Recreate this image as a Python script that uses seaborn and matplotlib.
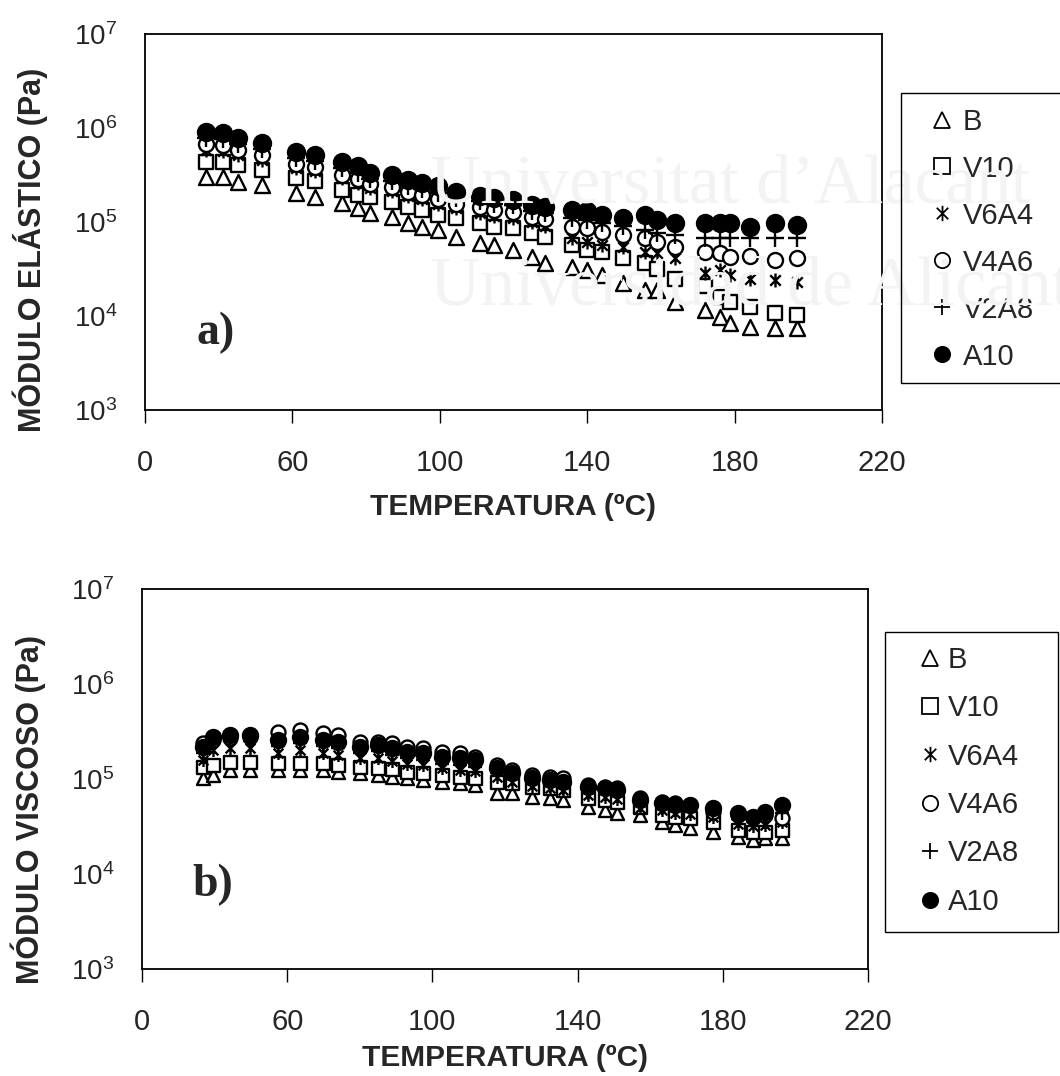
import pandas as pd
import matplotlib
matplotlib.use("Agg")
import matplotlib.pyplot as plt
from matplotlib.path import Path
from matplotlib.lines import Line2D
from matplotlib.patches import Rectangle
import seaborn as sns

# ---- a) elastic modulus ----
temp_a = [36.6, 41.2, 45.2, 51.8, 61.0, 66.1, 73.5, 77.8, 81.1, 87.0, 91.4,
          95.2, 99.5, 104.4, 110.9, 114.7, 119.9, 125.0, 128.5, 135.9, 139.9,
          144.0, 149.7, 155.7, 158.9, 163.8, 172.0, 176.0, 178.8, 184.2,
          191.0, 196.9]
b_a = [3.0e5, 3.0e5, 2.67e5, 2.48e5, 2.04e5, 1.85e5, 1.59e5, 1.41e5, 1.25e5,
       1.13e5, 9.8e4, 8.85e4, 8.2e4, 6.9e4, 6.0e4, 5.7e4, 5.0e4, 4.2e4, 3.7e4,
       3.3e4, 3.1e4, 2.7e4, 2.25e4, 1.9e4, 1.9e4, 1.4e4, 1.16e4, 9.8e3, 8.4e3,
       7.6e3, 7.5e3, 7.5e3]
v10_a = [4.35e5, 4.35e5, 4.0e5, 3.6e5, 2.95e5, 2.7e5, 2.2e5, 1.94e5, 1.85e5,
         1.63e5, 1.44e5, 1.34e5, 1.19e5, 1.1e5, 9.8e4, 8.85e4, 8.6e4, 7.6e4,
         6.9e4, 5.7e4, 5.0e4, 4.8e4, 4.1e4, 3.7e4, 3.2e4, 2.5e4, 2.1e4, 1.6e4,
         1.4e4, 1.25e4, 1.08e4, 1.03e4]
v6a4_a = [5.8e5, 5.7e5, 5.2e5, 4.6e5, 3.75e5, 3.5e5, 2.95e5, 2.6e5, 2.3e5,
          2.15e5, 1.9e5, 1.75e5, 1.55e5, 1.4e5, 1.25e5, 1.15e5, 1.1e5, 1.0e5,
          9.1e4, 6.7e4, 6.1e4, 5.7e4, 5.4e4, 4.8e4, 4.7e4, 4.1e4, 2.9e4, 3.1e4,
          2.7e4, 2.5e4, 2.4e4, 2.3e4]
v4a6_a = [6.8e5, 6.6e5, 5.8e5, 5.2e5, 4.1e5, 3.85e5, 3.2e5, 2.85e5, 2.55e5,
          2.36e5, 2.08e5, 1.94e5, 1.75e5, 1.55e5, 1.44e5, 1.34e5, 1.28e5,
          1.13e5, 1.07e5, 8.85e4, 8.6e4, 7.8e4, 7.3e4, 6.7e4, 6.1e4, 5.4e4,
          4.8e4, 4.7e4, 4.2e4, 4.4e4, 3.9e4, 4.1e4]
v2a8_a = [7.8e5, 7.6e5, 6.8e5, 6.0e5, 4.8e5, 4.5e5, 3.75e5, 3.3e5, 2.85e5,
          2.7e5, 2.4e5, 2.25e5, 2.05e5, 1.8e5, 1.67e5, 1.55e5, 1.5e5, 1.3e5,
          1.25e5, 1.1e5, 1.05e5, 9.8e4, 9.1e4, 8.2e4, 7.6e4, 7.3e4, 6.7e4,
          6.7e4, 6.7e4, 6.7e4, 6.7e4, 6.7e4]
a10_a = [9.0e5, 8.8e5, 7.8e5, 6.9e5, 5.5e5, 5.2e5, 4.3e5, 3.9e5, 3.3e5, 3.2e5,
         2.8e5, 2.6e5, 2.4e5, 2.1e5, 1.9e5, 1.8e5, 1.7e5, 1.5e5, 1.45e5,
         1.35e5, 1.3e5, 1.2e5, 1.1e5, 1.2e5, 1.05e5, 9.8e4, 9.8e4, 9.8e4,
         9.8e4, 8.9e4, 9.8e4, 9.3e4]

# ---- b) viscous modulus ----
temp_b = [36.8, 39.6, 44.2, 49.8, 57.5, 63.5, 69.9, 74.0, 80.1, 85.0, 88.8,
          93.0, 97.4, 102.6, 107.6, 111.7, 117.8, 121.9, 127.4, 132.4, 136.0,
          142.9, 147.5, 150.9, 157.2, 163.3, 166.8, 171.0, 177.3, 184.2,
          188.3, 191.6, 196.3]
b_b = [1.03e5, 1.1e5, 1.24e5, 1.24e5, 1.24e5, 1.24e5, 1.24e5, 1.19e5, 1.16e5,
       1.1e5, 1.05e5, 1.03e5, 9.8e4, 9.3e4, 9.1e4, 8.6e4, 7.1e4, 7.1e4, 6.5e4,
       6.3e4, 6.0e4, 5.1e4, 4.7e4, 4.4e4, 4.2e4, 3.5e4, 3.3e4, 3.05e4, 2.8e4,
       2.45e4, 2.3e4, 2.4e4, 2.4e4]
v10_b = [1.34e5, 1.4e5, 1.51e5, 1.51e5, 1.47e5, 1.47e5, 1.47e5, 1.4e5, 1.34e5,
         1.31e5, 1.27e5, 1.19e5, 1.16e5, 1.1e5, 1.05e5, 1.03e5, 9.3e4, 9.1e4,
         8.2e4, 8.0e4, 7.7e4, 6.3e4, 6.0e4, 5.7e4, 5.1e4, 4.2e4, 4.0e4, 3.9e4,
         3.5e4, 2.9e4, 2.8e4, 2.8e4, 2.9e4]
v6a4_b = [1.6e5, 2.0e5, 2.1e5, 2.1e5, 1.9e5, 2.0e5, 1.9e5, 1.8e5, 1.65e5,
          1.65e5, 1.55e5, 1.45e5, 1.4e5, 1.3e5, 1.25e5, 1.2e5, 1.05e5, 9.3e4,
          8.5e4, 8.0e4, 7.6e4, 6.8e4, 6.5e4, 6.2e4, 5.0e4, 4.7e4, 4.4e4, 4.3e4,
          4.0e4, 3.4e4, 3.2e4, 3.3e4, 3.5e4]
v4a6_b = [2.4e5, 2.6e5, 2.7e5, 2.8e5, 3.1e5, 3.3e5, 3.05e5, 2.9e5, 2.45e5,
          2.45e5, 2.4e5, 2.17e5, 2.12e5, 1.92e5, 1.88e5, 1.71e5, 1.4e5, 1.24e5,
          1.1e5, 1.05e5, 1.03e5, 8.6e4, 8.2e4, 8.0e4, 6.3e4, 5.7e4, 5.6e4,
          5.3e4, 4.5e4, 4.2e4, 4.0e4, 4.2e4, 3.9e4]
v2a8_b = [1.9e5, 2.4e5, 2.5e5, 2.5e5, 2.2e5, 2.4e5, 2.2e5, 2.1e5, 1.9e5,
          1.95e5, 1.8e5, 1.65e5, 1.6e5, 1.45e5, 1.4e5, 1.35e5, 1.15e5, 1.0e5,
          9.0e4, 8.5e4, 8.0e4, 7.2e4, 7.0e4, 6.7e4, 5.3e4, 5.0e4, 4.7e4, 4.6e4,
          4.3e4, 3.8e4, 3.5e4, 3.8e4, 4.4e4]
a10_b = [2.17e5, 2.77e5, 2.9e5, 2.9e5, 2.58e5, 2.77e5, 2.58e5, 2.45e5, 2.17e5,
         2.28e5, 2.12e5, 1.92e5, 1.88e5, 1.71e5, 1.66e5, 1.58e5, 1.3e5, 1.15e5,
         1.03e5, 9.8e4, 9.3e4, 8.2e4, 8.0e4, 7.7e4, 6.0e4, 5.6e4, 5.3e4, 5.3e4,
         5.0e4, 4.4e4, 4.0e4, 4.5e4, 5.3e4]

series_names = ["B", "V10", "V6A4", "V4A6", "V2A8", "A10"]
x_ticks = [20, 60, 100, 140, 180, 220]
x_ticklabels = ["0", "60", "100", "140", "180", "220"]
y_ticks = [1e3, 1e4, 1e5, 1e6, 1e7]
y_ticklabels = ["10$^{3}$", "10$^{4}$", "10$^{5}$", "10$^{6}$", "10$^{7}$"]

# asterisk like the Excel one: vertical bar + X
star = Path([(0, -1), (0, 1), (-0.75, -0.75), (0.75, 0.75),
             (-0.75, 0.75), (0.75, -0.75)],
            [Path.MOVETO, Path.LINETO] * 3)

styles = {
    "B": dict(marker="^", fc="white", ec="black"),
    "V10": dict(marker="s", fc="white", ec="black"),
    "V6A4": dict(marker=star, fc="black", ec="black"),
    "V4A6": dict(marker="o", fc="white", ec="black"),
    "V2A8": dict(marker="+", fc="black", ec="black"),
    "A10": dict(marker="o", fc="black", ec="black"),
}
size_a = {"B": 15, "V10": 14, "V6A4": 14, "V4A6": 15, "V2A8": 18, "A10": 17}
size_b = {"B": 13, "V10": 13, "V6A4": 13, "V4A6": 14, "V2A8": 14, "A10": 15}

sns.set_style("white")
plt.rcParams["font.family"] = ["Liberation Sans", "DejaVu Sans"]
plt.rcParams["mathtext.default"] = "regular"

fig = plt.figure(figsize=(10.6, 10.76), dpi=100)

# faint watermark of the scanned source
for txt, yb in [("Universitat d\u2019Alacant", 203), ("Universidad de Alicante", 305)]:
    fig.text(430 / 1060, 1 - yb / 1076, txt, family="Liberation Serif",
             fontsize=50, color="#f3f3f3", va="baseline", zorder=0)

ax_a = fig.add_axes([145 / 1060, 1 - 410 / 1076, 737 / 1060, 376 / 1076])
ax_b = fig.add_axes([142 / 1060, 1 - 969 / 1076, 726 / 1060, 380 / 1076])


def draw_panel(ax, temps, values, sizes, ylabel, tag, tag_y, ylab_y, xlab_y,
               box, leg_anchor, leg_pad):
    for name in series_names:
        df = pd.DataFrame({"temp": temps, "mod": values[name]})
        st = styles[name]
        sns.scatterplot(data=df, x="temp", y="mod", ax=ax, marker=st["marker"],
                        s=(sizes[name] * 0.72) ** 2, facecolor=st["fc"],
                        edgecolor=st["ec"], linewidth=1.7, zorder=3)
    ax.set_yscale("log")
    ax.set_xlim(20, 220)
    ax.set_ylim(1e3, 1e7)
    ax.set_xticks(x_ticks)
    ax.set_xticklabels(x_ticklabels)
    ax.set_yticks(y_ticks)
    ax.set_yticklabels(y_ticklabels)
    ax.minorticks_off()
    ax.tick_params(axis="x", direction="out", length=9, width=1, color="black",
                   labelsize=21, pad=19, bottom=True)
    ax.tick_params(axis="y", length=0, labelsize=20, pad=20)
    ax.patch.set_alpha(0)
    for sp in ax.spines.values():
        sp.set_color("black")
        sp.set_linewidth(1.3)
    ax.set_xlabel("TEMPERATURA (ºC)", fontsize=21.5, fontweight="bold", va="center")
    ax.xaxis.set_label_coords(0.5, xlab_y)
    ax.set_ylabel(ylabel, fontsize=22, fontweight="bold", va="center")
    ax.yaxis.set_label_coords(-115 / 737, ylab_y)
    ax.text(34, 10 ** tag_y, tag, family="Liberation Serif", fontweight="bold",
            fontsize=33, va="center", ha="left")

    handles = [Line2D([], [], linestyle="none", marker=styles[n]["marker"],
                      markersize=11, markerfacecolor=styles[n]["fc"],
                      markeredgecolor="black", markeredgewidth=1.3)
               for n in series_names]
    ax.legend(handles, series_names, loc="upper left",
              bbox_to_anchor=leg_anchor, bbox_transform=fig.transFigure,
              fontsize=21, frameon=False, borderpad=0.3, borderaxespad=0,
              handlelength=leg_pad[0], handletextpad=leg_pad[1],
              labelspacing=leg_pad[2])
    x0, y0, x1, y1 = box
    fig.patches.append(Rectangle((x0 / 1060, 1 - y1 / 1076),
                                 (x1 - x0) / 1060, (y1 - y0) / 1076,
                                 transform=fig.transFigure, fill=True,
                                 facecolor="none", edgecolor="black",
                                 linewidth=1.0, zorder=1))


draw_panel(ax_a, temp_a,
           {"B": b_a, "V10": v10_a, "V6A4": v6a4_a, "V4A6": v4a6_a,
            "V2A8": v2a8_a, "A10": a10_a},
           size_a, "MÓDULO ELÁSTICO (Pa)", "a)", 3.82, 160 / 376, -97 / 376,
           (901, 93, 1070, 383), (901 / 1060, 1 - 99 / 1076), (2.2, -0.38, 0.65))
draw_panel(ax_b, temp_b,
           {"B": b_b, "V10": v10_b, "V6A4": v6a4_b, "V4A6": v4a6_b,
            "V2A8": v2a8_b, "A10": a10_b},
           size_b, "MÓDULO VISCOSO (Pa)", "b)", 3.89, 160 / 380, -89 / 380,
           (885, 632, 1058, 932), (885 / 1060, 1 - 637 / 1076), (2.47, -0.62, 0.7))

fig.savefig("out.png", dpi=100)
